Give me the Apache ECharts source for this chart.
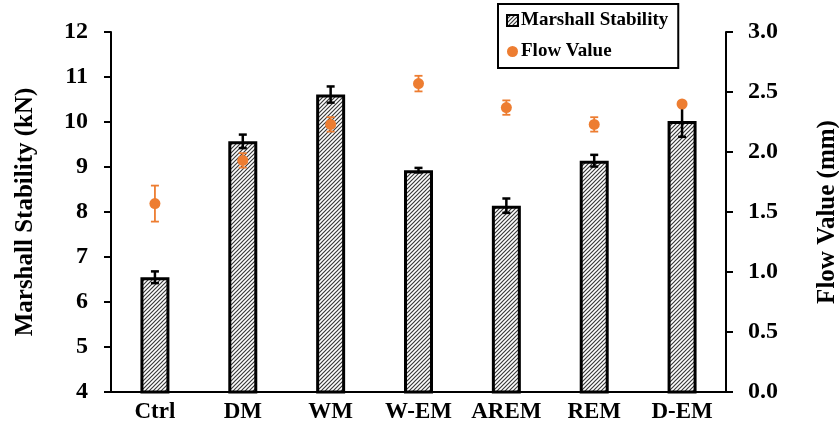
<!DOCTYPE html>
<html>
<head>
<meta charset="utf-8">
<script src="https://cdn.jsdelivr.net/npm/echarts@6/dist/echarts.min.js"></script>
<style>
  html, body { margin: 0; padding: 0; background: #fff; }
  #chart { width: 839px; height: 427px; }
</style>
</head>
<body>
<div id="chart"></div>
<script>
const categories = ['Ctrl', 'DM', 'WM', 'W-EM', 'AREM', 'REM', 'D-EM']
const stability = [6.55, 9.57, 10.61, 8.93, 8.14, 9.14, 10.02]
const stabilityErr = [0.13, 0.15, 0.18, 0.05, 0.16, 0.13, 0.35]
const flow = [1.57, 1.93, 2.23, 2.57, 2.37, 2.23, 2.40]
const flowErr = [0.15, 0.06, 0.06, 0.065, 0.06, 0.06, 0]
const leftTicks = ['4', '5', '6', '7', '8', '9', '10', '11', '12']
const rightTicks = ['0.0', '0.5', '1.0', '1.5', '2.0', '2.5', '3.0']

const FONT = 'Liberation Serif'
const ORANGE = '#ED7D31'

// diagonal hatch for the bars
const hatch = document.createElement('canvas')
hatch.width = 4
hatch.height = 4
const hc = hatch.getContext('2d')
hc.fillStyle = '#fff'
hc.fillRect(0, 0, 4, 4)
hc.strokeStyle = '#3a3a3a'
hc.lineWidth = 1.2
hc.beginPath()
hc.moveTo(0, 4); hc.lineTo(4, 0)
hc.moveTo(-1, 1); hc.lineTo(1, -1)
hc.moveTo(3, 5); hc.lineTo(5, 3)
hc.stroke()

const errorItem = (color, lw, cap) => (params, api) => {
  const x = api.value(0)
  const v = api.value(1)
  const e = api.value(2)
  if (!e) return null
  const hi = api.coord([x, v + e])
  const lo = api.coord([x, v - e])
  const style = { stroke: color, lineWidth: lw }
  return {
    type: 'group',
    children: [
      { type: 'line', shape: { x1: hi[0], y1: hi[1], x2: lo[0], y2: lo[1] }, style },
      { type: 'line', shape: { x1: hi[0] - cap, y1: hi[1], x2: hi[0] + cap, y2: hi[1] }, style },
      { type: 'line', shape: { x1: lo[0] - cap, y1: lo[1], x2: lo[0] + cap, y2: lo[1] }, style }
    ]
  }
}

const chart = echarts.init(document.getElementById('chart'))

chart.setOption({
  animation: false,
  textStyle: { fontFamily: FONT },
  grid: { left: 111, right: 113, top: 32, bottom: 35, containLabel: false, outerBoundsMode: 'none' },
  legend: {
    orient: 'vertical',
    left: 498,
    top: 4,
    width: 184,
    padding: [7, 10, 7, 8],
    itemGap: 12,
    itemWidth: 11,
    itemHeight: 11,
    borderColor: '#000',
    borderWidth: 2,
    textStyle: { fontFamily: FONT, fontWeight: 'bold', fontSize: 19, color: '#000', padding: [0, 0, 0, -2] },
    data: [
      { name: 'Marshall Stability', icon: 'rect' },
      { name: 'Flow Value', icon: 'circle' }
    ]
  },
  xAxis: {
    type: 'category',
    data: categories,
    axisLine: { lineStyle: { color: '#000', width: 2 } },
    axisTick: { show: false },
    axisLabel: { interval: 0, color: '#000', fontFamily: FONT, fontWeight: 'bold', fontSize: 23, margin: 9 }
  },
  yAxis: [
    {
      type: 'value',
      min: 4,
      max: 12,
      interval: 1,
      position: 'left',
      name: 'Marshall Stability (kN)',
      nameLocation: 'middle',
      nameRotate: 90,
      nameGap: 73,
      nameTextStyle: { fontFamily: FONT, fontWeight: 'bold', fontSize: 25, color: '#000' },
      axisLine: { show: true, lineStyle: { color: '#000', width: 2 } },
      axisTick: { show: true, inside: false, length: 7, lineStyle: { color: '#000', width: 2 } },
      axisLabel: {
        color: '#000', fontFamily: FONT, fontWeight: 'bold', fontSize: 24, margin: 23,
        formatter: v => leftTicks[Math.round(v - 4)]
      },
      splitLine: { show: false }
    },
    {
      type: 'value',
      min: 0,
      max: 3,
      interval: 0.5,
      position: 'right',
      name: 'Flow Value (mm)',
      nameLocation: 'middle',
      nameRotate: 90,
      nameGap: 89,
      nameTextStyle: { fontFamily: FONT, fontWeight: 'bold', fontSize: 25, color: '#000' },
      axisLine: { show: true, lineStyle: { color: '#000', width: 2 } },
      axisTick: { show: true, inside: false, length: 7, lineStyle: { color: '#000', width: 2 } },
      axisLabel: {
        color: '#000', fontFamily: FONT, fontWeight: 'bold', fontSize: 24, margin: 22,
        formatter: v => rightTicks[Math.round(v * 2)]
      },
      splitLine: { show: false }
    }
  ],
  series: [
    {
      name: 'Marshall Stability',
      type: 'bar',
      barWidth: '33%',
      data: stability,
      itemStyle: {
        color: { image: hatch, repeat: 'repeat' },
        borderColor: '#000',
        borderWidth: 3
      },
      z: 2
    },
    {
      name: 'stabilityErr',
      type: 'custom',
      renderItem: errorItem('#000', 2.5, 4),
      data: categories.map((c, i) => [i, stability[i], stabilityErr[i]]),
      encode: { x: 0, y: 1 },
      zlevel: 1,
      z: 3,
      silent: true
    },
    {
      name: 'flowErr',
      type: 'custom',
      yAxisIndex: 1,
      renderItem: errorItem(ORANGE, 1.8, 4),
      data: categories.map((c, i) => [i, flow[i], flowErr[i]]),
      encode: { x: 0, y: 1 },
      zlevel: 1,
      z: 4,
      silent: true
    },
    {
      name: 'Flow Value',
      type: 'scatter',
      yAxisIndex: 1,
      data: flow,
      symbol: 'circle',
      symbolSize: 11,
      itemStyle: { color: ORANGE, opacity: 1 },
      zlevel: 1,
      z: 5
    }
  ]
})
</script>
</body>
</html>
